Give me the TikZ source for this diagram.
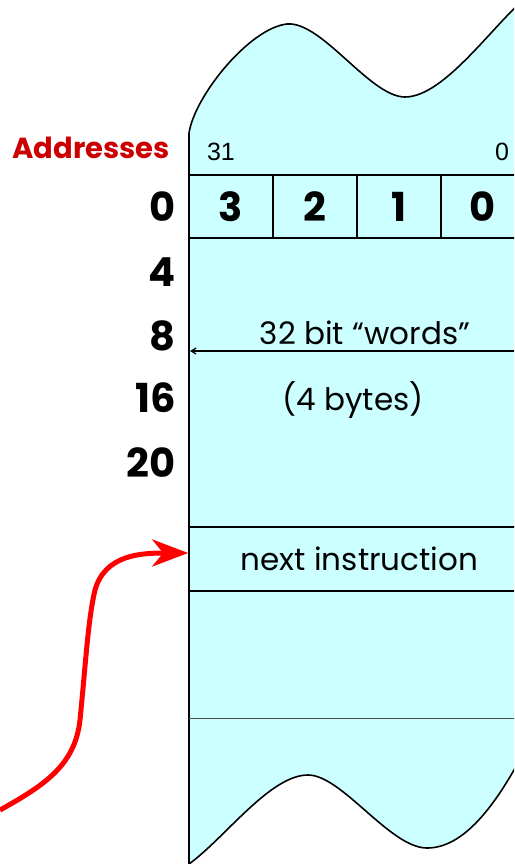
\documentclass[tikz,border=0pt]{standalone}
\usepackage{fontspec}
\setmainfont{Poppins}
\newfontfamily\bitfont{Liberation Sans}
\usetikzlibrary{arrows.meta}
\definecolor{memcyan}{HTML}{CCFFFF}
\definecolor{addrred}{HTML}{CC0000}
\definecolor{pcred}{HTML}{FF0000}

\begin{document}
\begin{tikzpicture}[x=1pt,y=-1pt,
    hand/.style={font=\fontsize{31}{33}\selectfont,inner sep=0pt},
    addrnum/.style={font=\fontsize{40}{42}\selectfont\bfseries,inner sep=0pt,anchor=east},
    bytecell/.style={draw,line width=1.6pt,minimum width=84pt,minimum height=63pt,inner sep=0pt,
      font=\fontsize{40}{42}\selectfont\bfseries},
    bitno/.style={font=\bitfont\fontsize{25}{27}\selectfont,inner sep=0pt}]
  \useasboundingbox (0,0) rectangle (514,864);
  \begin{scope}
    \clip (0,0) rectangle (514,864);
    % memory strip with wavy ends
    \filldraw[fill=memcyan,line width=1.6pt] (189,864) -- (189,133)
      .. controls (195,95) and (250,28) .. (287,24)
      .. controls (322,21) and (370,97) .. (405,97)
      .. controls (445,97) and (495,22) .. (528,-4) -- (530,740)
      .. controls (495,810) and (462,848) .. (427,848)
      .. controls (390,848) and (342,775) .. (308,775)
      .. controls (270,775) and (225,838) .. (189,864) -- cycle;
    \foreach \i/\d in {0/3,1/2,2/1,3/0}
      \node[bytecell] (byte\d) at ({189+84*\i+42},206.5) {\d};
    \draw[line width=1.6pt] (189,527) -- (530,527);
    \node[draw,line width=1.6pt,minimum width=341pt,minimum height=64pt,inner sep=0pt,
      font=\fontsize{31}{33}\selectfont] (nxt) at (359.5,559) {next instruction};
    \draw[line width=0.8pt,black!70] (189,718) -- (530,718);
    \coordinate (wordright) at (530,351);
    \coordinate (wordleft) at (190,351);
    \draw[line width=1.2pt,-{Straight Barb[length=5pt,width=6pt]}] (wordright) -- (wordleft);
  \end{scope}
  \node[bitno] (msb) at (221,152) {31};
  \node[bitno] (lsb) at (502,152) {0};
  \node[font=\fontsize{29}{31}\selectfont\bfseries,color=addrred,inner sep=0pt] (addr) at (91,148) {Addresses};
  \foreach \a/\y in {0/207,4/272,8/336,16/398,20/463}
    \node[addrnum] (a\a) at (176,\y) {\a};
  \node[hand] (words) at (365,333) {32 bit “words”};
  \node[hand] (bytes) at (353,400) {(4 bytes)};
  % program counter arrow
  \coordinate (pcstart) at (0,810);
  \draw[pcred,line width=5pt,-{Stealth[length=36pt,width=27pt,inset=11pt]}] (pcstart)
    .. controls (45,785) and (75,765) .. (80,720)
    .. controls (86,660) and (88,620) .. (95,590)
    .. controls (105,555) and (140,553) .. ([yshift=6pt]nxt.west);
\end{tikzpicture}
\end{document}
